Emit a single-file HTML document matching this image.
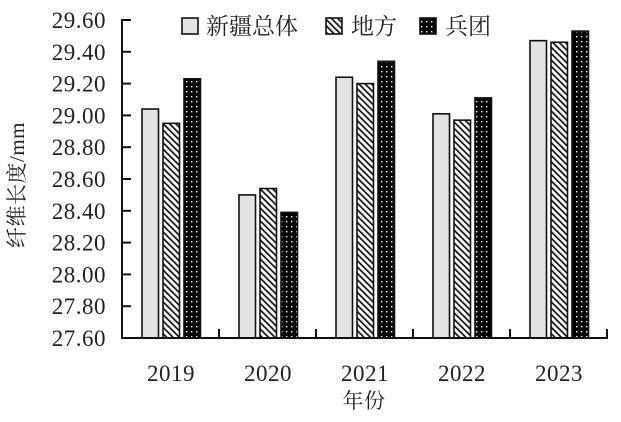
<!DOCTYPE html>
<html><head><meta charset="utf-8"><style>
body{margin:0;background:#fff;}
svg text{font-family:"Liberation Serif","Noto Serif CJK SC",serif;fill:#222;}
</style></head><body>
<svg width="621" height="417" viewBox="0 0 621 417" xmlns="http://www.w3.org/2000/svg">
<defs>
<pattern id="hatch" width="4.5" height="4.5" patternUnits="userSpaceOnUse" patternTransform="rotate(-45)">
<rect width="4.5" height="4.5" fill="#fff"/><rect width="1.7" height="4.5" fill="#111"/></pattern>
<pattern id="dots" width="5" height="5" patternUnits="userSpaceOnUse">
<rect width="5" height="5" fill="#000"/><rect x="1" y="1" width="1.4" height="1.4" fill="#fff"/></pattern>
</defs>
<g id="bars" stroke="#111" stroke-width="1.6"></g>
<g stroke="#111" stroke-width="2" fill="none">
<line x1="122" y1="19" x2="122" y2="338"/>
<line x1="121" y1="338" x2="608" y2="338"/>
</g>
<g id="ticks" stroke="#111" stroke-width="2"></g>
<g id="labels" font-size="23" text-anchor="end" letter-spacing="0.5"></g>
<g font-size="23" text-anchor="middle" letter-spacing="0.5">
<text x="171" y="381">2019</text><text x="268" y="381">2020</text><text x="365" y="381">2021</text><text x="462" y="381">2022</text><text x="559" y="381">2023</text>
<text x="364" y="408" font-size="21">年份</text>
<text transform="translate(24,185) rotate(-90)" font-size="21">纤维长度/mm</text>
</g>
<g stroke="#111" stroke-width="1.6">
<rect x="182" y="18" width="16" height="16" fill="#e3e3e3"/>
<rect x="326" y="18" width="16" height="16" fill="url(#hatch)"/>
<rect x="420" y="18" width="16" height="16" fill="url(#dots)"/>
</g>
<g font-size="23">
<text x="206" y="34">新疆总体</text><text x="351" y="34">地方</text><text x="445" y="34">兵团</text>
</g>
</svg>
<script>
const ns="http://www.w3.org/2000/svg";
const y=v=>338-(v-27.6)*159;
const data=[[29.04,28.95,29.23],[28.50,28.54,28.39],[29.24,29.20,29.34],[29.01,28.97,29.11],[29.47,29.46,29.53]];
const fills=["#e3e3e3","url(#hatch)","url(#dots)"];
const offs=[-28.5,-7.5,13.5];
const g=document.getElementById("bars");
data.forEach((d,i)=>{const c=170.5+97*i;d.forEach((v,j)=>{const r=document.createElementNS(ns,"rect");
r.setAttribute("x",c+offs[j]);r.setAttribute("y",y(v));r.setAttribute("width",16.5);r.setAttribute("height",338-y(v));r.setAttribute("fill",fills[j]);g.appendChild(r);});});
const t=document.getElementById("ticks"),l=document.getElementById("labels");
for(let k=0;k<=10;k++){const v=27.6+0.2*k,yy=y(v);
const ln=document.createElementNS(ns,"line");ln.setAttribute("x1",122);ln.setAttribute("x2",131);ln.setAttribute("y1",yy);ln.setAttribute("y2",yy);t.appendChild(ln);
const tx=document.createElementNS(ns,"text");tx.setAttribute("x",106);tx.setAttribute("y",yy+8);tx.textContent=v.toFixed(2);l.appendChild(tx);}
for(let i=1;i<=5;i++){const x=122+97*i;const ln=document.createElementNS(ns,"line");ln.setAttribute("x1",x);ln.setAttribute("x2",x);ln.setAttribute("y1",329);ln.setAttribute("y2",338);t.appendChild(ln);}
</script>
</body></html>
